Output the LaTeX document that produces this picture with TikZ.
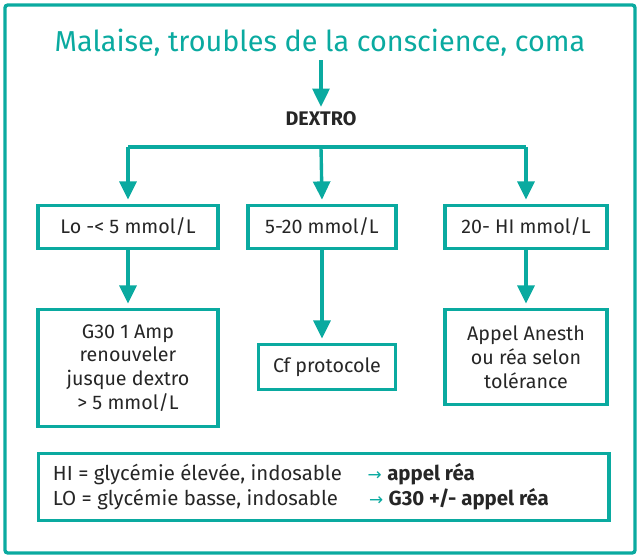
\documentclass[tikz,border=0pt]{standalone}
\usepackage{fontspec}
\setmainfont{Fira Sans}
\newfontfamily\arrowfont{DejaVu Sans}
\usetikzlibrary{arrows.meta,positioning}
\definecolor{teal}{RGB}{10,170,160}
\begin{document}
\begin{tikzpicture}[
    x=0.025cm, y=-0.025cm,
    every node/.style={font=\fontsize{14}{17}\selectfont, text=black!85},
    stepbox/.style={draw=teal, line width=2.4pt, align=center, inner sep=0pt},
    arrstyle/.style={-{Triangle[length=13pt, width=12pt]}, draw=teal, line width=2.4pt}
]
\useasboundingbox (0,0) rectangle (640,559);
% outer frame
\draw[teal, line width=2.4pt, rounded corners=2pt] (5,5) rectangle (635,553);

% title and first step
\node[font=\fontsize{20.5}{24}\selectfont, text=teal] (title) at (320,43) {Malaise, troubles de la conscience, coma};
\node[font=\fontsize{14}{17}\selectfont\bfseries] (dextro) at (321,119) {DEXTRO};
\draw[arrstyle] (321,60) -- (dextro.north);

% glycemia ranges
\node[stepbox, minimum width=4.5cm, minimum height=1.07cm] (lo) at (128,227) {Lo -< 5 mmol/L};
\node[stepbox, minimum width=3.7cm, minimum height=1.07cm] (mid) at (322,227) {5-20 mmol/L};
\node[stepbox, minimum width=4.05cm, minimum height=1.07cm] (hi) at (526,227) {20- HI mmol/L};
\coordinate (split) at (321,147);
\draw[teal, line width=2.4pt] (lo.north |- split) -- (hi.north |- split);
\draw[arrstyle] (lo.north |- split) -- ([yshift=3pt]lo.north);
\draw[arrstyle] (split) -- ([yshift=3pt]mid.north);
\draw[arrstyle] (hi.north |- split) -- ([yshift=3pt]hi.north);

% actions
\node[stepbox, minimum width=4.5cm, minimum height=2.92cm] (g30) at (128,368) {G30 1 Amp\\renouveler\\jusque dextro\\> 5 mmol/L};
\node[stepbox, minimum width=3.42cm, minimum height=1.12cm] (cf) at (327,367) {Cf protocole};
\node[stepbox, minimum width=4.05cm, minimum height=2.37cm] (anesth) at (526,357) {Appel Anesth\\ou réa selon\\tolérance};
\draw[arrstyle] (lo.south) -- ([yshift=3pt]g30.north);
\draw[arrstyle] (mid.south) -- ([yshift=3pt]mid.south |- cf.north);
\draw[arrstyle] (hi.south) -- ([yshift=3pt]anesth.north);

% legend
\node[stepbox, minimum width=14.25cm, minimum height=1.67cm, anchor=west] (legend) at (37,487) {};
\node[anchor=west, align=left, font=\fontsize{14.5}{18}\selectfont] (legtext) at (48,487)
  {HI = glycémie élevée, indosable \quad{\arrowfont\large\color{teal}→} \textbf{appel réa}\\
   LO = glycémie basse, indosable \quad\ {\arrowfont\large\color{teal}→} \textbf{G30 +/- appel réa}};
\end{tikzpicture}
\end{document}
